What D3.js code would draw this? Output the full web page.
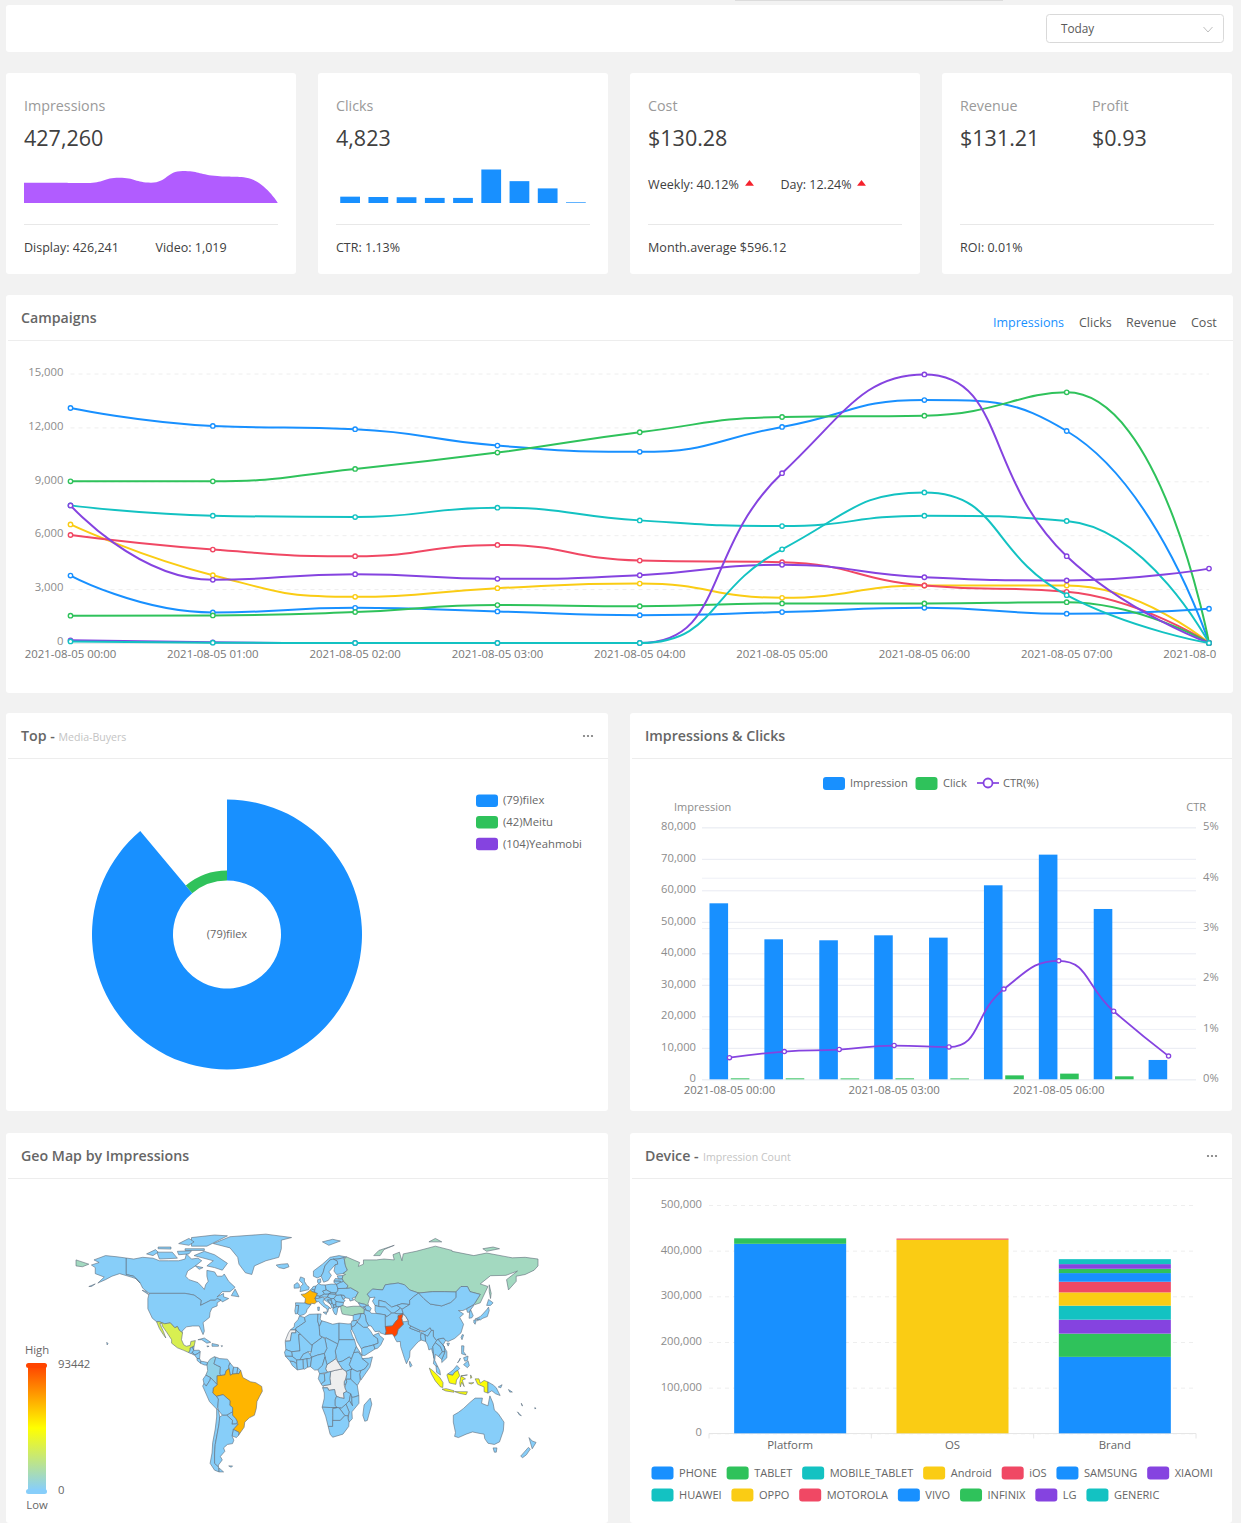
<!DOCTYPE html>
<html>
<head>
<meta charset="utf-8">
<title>Dashboard</title>
<script src="https://cdnjs.cloudflare.com/ajax/libs/d3/7.8.5/d3.min.js"></script>
<style>
  html, body { margin: 0; padding: 0; background: #f2f2f2; overflow: hidden; }
  svg { display: block; font-family: "Open Sans", sans-serif; }
  .domain { display: none; }
</style>
</head>
<body>
<svg id="page" width="1241" height="1523"></svg>
<script>
// ---- data ----
var palette = ["#1890FF", "#2FC25B", "#13C2C2", "#FACC14", "#F04864", "#8543E0"];

var sparkImpressions = [42, 42, 41, 52, 42, 66, 56, 52, 0];
var sparkClicks = [280, 265, 255, 225, 225, 1480, 965, 645, 30];

var hours = ["2021-08-05 00:00", "2021-08-05 01:00", "2021-08-05 02:00", "2021-08-05 03:00", "2021-08-05 04:00",
  "2021-08-05 05:00", "2021-08-05 06:00", "2021-08-05 07:00", "2021-08-05 08:00"];
var campaignTicks = [0, 3000, 6000, 9000, 12000, 15000];
var campaignBlueTop = [13080, 12080, 11900, 10990, 10640, 12025, 13520, 11800, 0];
var campaignGreenTop = [9000, 9000, 9690, 10600, 11730, 12580, 12650, 13950, 0];
var campaignTealMid = [7660, 7085, 7010, 7530, 6825, 6510, 7085, 6790, 0];
var campaignYellow = [6600, 3770, 2570, 3050, 3310, 2515, 3200, 3200, 0];
var campaignRed = [6010, 5200, 4830, 5460, 4590, 4495, 3200, 2850, 0];
var campaignPurpleLow = [7660, 3515, 3830, 3570, 3770, 4350, 3660, 3480, 4140];
var campaignBlueLow = [3755, 1700, 1960, 1760, 1550, 1720, 1960, 1630, 1905];
var campaignGreenLow = [1520, 1535, 1720, 2110, 2050, 2200, 2200, 2275, 0];
var campaignPurpleTall = [148, 37, 0, 0, 0, 9450, 14950, 4830, 0];
var campaignTealTall = [90, 20, 0, 0, 0, 5215, 8380, 2660, 0];
var campaignTabs = ["Impressions", "Clicks", "Revenue", "Cost"];

var buyerNames = ["(79)filex", "(42)Meitu", "(104)Yeahmobi"];
var buyerValues = [100, 12.5, 0];

var impressionValues = [55870, 44440, 44130, 45710, 44970, 61590, 71320, 54070, 6140];
var clickValues = [300, 300, 280, 300, 280, 1250, 1800, 950, 0];
var ctrValues = [0.43, 0.55, 0.59, 0.67, 0.64, 1.79, 2.35, 1.35, 0.46];

var deviceGroups = ["Platform", "OS", "Brand"];
var deviceSeries = ["PHONE", "TABLET", "MOBILE_TABLET", "Android", "iOS", "SAMSUNG", "XIAOMI", "HUAWEI", "OPPO", "MOTOROLA", "VIVO", "INFINIX", "LG", "GENERIC"];
var deviceValues = [
  [415000, 0, 167400], [12000, 0, 50900], [200, 0, 0], [0, 424000, 0], [0, 2500, 0],
  [0, 0, 0], [0, 0, 30600], [0, 0, 30600], [0, 0, 29100], [0, 0, 23300],
  [0, 0, 19000], [0, 0, 9400], [0, 0, 10200], [0, 0, 10900]
];

var geoMax = 93442;
var geoValues = { Pakistan: 93442, Brazil: 65400, France: 65400, Indonesia: 45000, Mexico: 31500, Russia: 10900, Turkey: 10900, Colombia: 3100,
  WesternSahara: null, CAR: null, DRCongo: null, Kashmir: null };

// rough country outlines, [lon, lat]
var worldShapes = [
  ["Canada", [[-141,69.6],[-135,69],[-128,70],[-120,69.5],[-115,68],[-108,68],[-100,68],[-95,69],[-94,72],[-90,69],[-85,69.5],[-82,68],[-87,65],[-93,62],[-94.5,59],[-92,57],[-85,55.3],[-82,53],[-80,51.3],[-79,54],[-77,56],[-78,59],[-78,62.4],[-72,61.5],[-70,59],[-66,59],[-64.5,60.3],[-61,56],[-56,52.5],[-60,50],[-66,50],[-70,47],[-65,49],[-65,47],[-61,46],[-66,44],[-67,45],[-70,46],[-71.5,45],[-75,45],[-79,43.5],[-83,42],[-82.5,45],[-88,48],[-95,49],[-123,49],[-128,52],[-130,55],[-135,59],[-141,60]]],
  ["Canada", [[-80,73.5],[-72,71.5],[-62,66.5],[-66,62.5],[-72,64],[-78,65],[-73,68],[-88,71]]],
  ["Canada", [[-117,73],[-105,73],[-101,69.5],[-115,69]]],
  ["Canada", [[-90,76.5],[-78,76.5],[-62,82.5],[-72,83],[-90,81.5]]],
  ["Canada", [[-125,72],[-118,74.5],[-116,73],[-120,71]]],
  ["Canada", [[-95,75],[-80,75],[-80,74],[-95,74]]],
  ["Canada", [[-100,78],[-92,81],[-88,79],[-92,77]]],
  ["Canada", [[-116,76],[-106,76],[-106,74.8],[-116,75]]],
  ["Canada", [[-101,73.5],[-90,73.8],[-92,72],[-100,71.5]]],
  ["Canada", [[-59,47.7],[-56,51.5],[-53,47]]],
  ["Canada", [[-128.5,50.8],[-123.5,48.3],[-125,50]]],
  ["Canada", [[-87,65],[-81,64],[-84,63]]],
  ["USA", [[-141,69.6],[-141,60],[-135,59],[-130,55],[-133,57.5],[-137,58.5],[-146,60.5],[-152,59],[-157,57],[-163,55],[-158,58.5],[-165,60.5],[-165,64],[-168,65.5],[-162,67],[-166,68.5],[-157,71],[-148,70.3]]],
  ["USA", [[-123,49],[-95,49],[-88,48],[-82.5,45],[-83,42],[-79,43.5],[-75,45],[-71.5,45],[-70,46],[-67,45],[-70,43.5],[-70,41.7],[-74,40.5],[-75.5,38],[-76,35],[-81,32],[-80,27],[-81,25],[-82.8,28],[-84,30],[-89,30],[-94,29.5],[-97.3,27],[-97,26],[-99.5,27.5],[-101,29.7],[-103,29],[-106.5,31.8],[-111,31.3],[-115,32.5],[-117.2,32.5],[-120.5,34.5],[-124,40],[-124,46]]],
  ["USA", [[-156,20.5],[-155,19.6],[-155.8,19]]],
  ["USA", [[-170,53],[-165,54.5],[-168,53]]],
  ["Mexico", [[-117.2,32.5],[-115,32.5],[-111,31.3],[-106.5,31.8],[-103,29],[-101,29.7],[-99.5,27.5],[-97,26],[-97.8,22],[-96,19],[-94,18.2],[-91,18.7],[-90.5,21],[-87,21.5],[-88,18.2],[-89.2,17.8],[-91,17.2],[-91,16],[-92.2,14.5],[-96,15.8],[-101,17.3],[-105.5,20],[-105.5,22],[-109,26],[-112.7,30],[-113,31.5],[-114.7,31.5],[-112,27],[-110,23],[-112,25],[-115,28.5]]],
  ["Greenland", [[-73,78],[-60,82],[-32,83.5],[-12,81.5],[-20,80],[-20,75],[-22,70],[-32,68],[-41,65],[-43,60],[-48,61],[-53,66],[-54,70],[-60,75.5]]],
  ["Cuba", [[-85,22],[-80,23],[-75,20.5],[-78,20],[-82,22]]],
  ["Hispaniola", [[-74,19.8],[-69,19],[-69,18.2],[-74,18.2]]],
  ["Jamaica", [[-78,18.4],[-76.3,18.2],[-77.5,17.8]]],
  ["PuertoRico", [[-67,18.5],[-65.7,18.4],[-66.5,18]]],
  ["Guatemala", [[-92.2,14.5],[-91,16],[-91,17.2],[-89.2,17.8],[-88.3,15.8],[-89.3,14.5],[-90.5,13.9]]],
  ["Belize", [[-89.2,17.8],[-88,18.4],[-88.3,16]]],
  ["Honduras", [[-89.3,14.5],[-88.3,15.8],[-84,15.9],[-83.2,15],[-85,14],[-87.5,13]]],
  ["Salvador", [[-90,13.8],[-89.3,14.4],[-87.7,13.5],[-88,13.1]]],
  ["Nicaragua", [[-87.5,13],[-85,14],[-83.2,15],[-83.7,11],[-85.7,11.1]]],
  ["CostaRica", [[-85.7,11.1],[-83.7,11],[-82.6,9.5],[-83,8.3],[-85.7,10]]],
  ["Panama", [[-83,8.3],[-82.6,9.5],[-80,9.2],[-77.4,8.7],[-77.9,7.2],[-80,7.3]]],
  ["Colombia", [[-77.4,8.7],[-75.5,10.7],[-72,12.2],[-71.3,11],[-72.5,8],[-70,7],[-67.5,6.2],[-67.8,2],[-67,1.2],[-70,1],[-70,-4.2],[-72,-2.5],[-75.2,-0.1],[-78.8,1.4],[-77.4,4],[-77.9,7.2]]],
  ["Venezuela", [[-71.3,11],[-71.5,12],[-68,11],[-62,10.7],[-60,8.5],[-61,6.5],[-60.7,5.2],[-63,4],[-64,1.5],[-67,1.2],[-67.8,2],[-67.5,6.2],[-70,7],[-72.5,8]]],
  ["Guyana", [[-60,8.5],[-57.2,6],[-58,2],[-59.8,1.3],[-60.7,5.2],[-61,6.5]]],
  ["Suriname", [[-57.2,6],[-54,5.8],[-54.5,2.3],[-58,2]]],
  ["Guiana", [[-54,5.8],[-51.7,4.2],[-53,2.2],[-54.5,2.3]]],
  ["Brazil", [[-60.7,5.2],[-59.8,1.3],[-58,2],[-54.5,2.3],[-53,2.2],[-51.7,4.2],[-50,0],[-44,-2.5],[-40,-3],[-35.3,-5.2],[-34.8,-8],[-37,-11],[-39,-14],[-39.5,-18],[-41,-22],[-45,-23.5],[-48.5,-26],[-49,-29],[-53.4,-33.7],[-53,-32],[-57.5,-30.2],[-53.8,-27.2],[-54.5,-25.5],[-55.5,-24],[-58,-22],[-58,-20],[-58,-17.5],[-60.2,-16.2],[-60,-13.5],[-65.4,-10],[-70.5,-11],[-73.5,-9],[-73,-6],[-70,-4.2],[-70,1],[-67,1.2],[-64,1.5],[-63,4]]],
  ["Ecuador", [[-78.8,1.4],[-75.2,-0.1],[-75.5,-1.5],[-78.5,-5],[-80.3,-3.5],[-81,-1]]],
  ["Peru", [[-75.2,-0.1],[-72,-2.5],[-70,-4.2],[-73,-6],[-73.5,-9],[-70.5,-11],[-69,-12.5],[-69.5,-17.5],[-70.4,-18.4],[-76,-14],[-81.3,-5],[-80.3,-3.5],[-78.5,-5],[-75.5,-1.5]]],
  ["Bolivia", [[-70.5,-11],[-65.4,-10],[-60,-13.5],[-60.2,-16.2],[-58,-17.5],[-58,-20],[-62.5,-22],[-66,-22],[-69,-19],[-69.5,-17.5],[-69,-12.5]]],
  ["Paraguay", [[-58,-20],[-58,-22],[-55.5,-24],[-54.5,-25.5],[-54.7,-27],[-58.5,-27.2],[-58,-25],[-62.5,-22]]],
  ["Uruguay", [[-57.5,-30.2],[-53,-32],[-53.4,-33.7],[-55,-35],[-58.4,-34]]],
  ["Chile", [[-70.4,-18.4],[-69,-19],[-68,-23],[-68.5,-27],[-70,-33],[-71.5,-39],[-72,-44],[-72,-50],[-69,-52],[-68.5,-55],[-72,-54],[-75.5,-50],[-74,-44],[-73.5,-38],[-71.5,-30],[-70.4,-23]]],
  ["Argentina", [[-66,-22],[-62.5,-22],[-58,-25],[-58.5,-27.2],[-54.7,-27],[-53.8,-27.2],[-57.5,-30.2],[-58.4,-34],[-57,-36.5],[-58,-38.5],[-62,-39],[-65,-41],[-64,-43],[-67.5,-46],[-66,-48],[-69,-51],[-69,-52],[-72,-50],[-72,-44],[-71.5,-39],[-70,-33],[-68.5,-27],[-68,-23]]],
  ["Argentina", [[-68.5,-52.7],[-65,-55],[-68.5,-55]]],
  ["Falklands", [[-61,-51.5],[-58,-51.5],[-59,-52.3]]],
  ["Iceland", [[-24,65.5],[-22,64],[-18,63.4],[-14,64.5],[-15,66.3],[-20,66]]],
  ["UK", [[-5.5,50],[1.3,51.2],[1.7,52.7],[0,53.5],[-2,56],[-2,57.7],[-5,58.6],[-6,56.5],[-3,54.5],[-5,53],[-5,51.7]]],
  ["Ireland", [[-10,52],[-6,52.2],[-6,54],[-7.5,55.3],[-10,54]]],
  ["Norway", [[5,59],[8,58],[11,59],[12.5,61],[14,65],[18,68.5],[24,69],[29,69.8],[31,70.2],[25,71],[18,70],[12,66],[5,62]]],
  ["Sweden", [[11,59],[13,55.5],[16.5,56.5],[19,59.5],[17,61.5],[22,65.7],[24,66],[23.5,68],[20.5,69],[18,68.5],[14,65],[12.5,61]]],
  ["Finland", [[23,60],[28,60.5],[31.5,62.5],[30,65],[29,69],[29,69.8],[24,69],[20.5,69],[23.5,68],[24,66],[22,65.7],[21,62]]],
  ["Svalbard", [[12,79],[20,80.5],[26,79.5],[17,77]]],
  ["Denmark", [[8.3,57],[10.5,57.5],[10.8,55.5],[9,54.8],[8.2,55.5]]],
  ["Netherlands", [[3.5,51.5],[4.8,53],[7,53.3],[6,50.8]]],
  ["Belgium", [[2.5,51],[3.5,51.5],[6,50.8],[6,49.6],[4,50]]],
  ["France", [[-1.7,43.4],[-1.2,46],[-4.7,48.4],[-1.6,48.7],[1.5,50.2],[2.5,51],[4,50],[6,49.6],[8.2,49],[7.5,47.6],[6.2,46.2],[7.5,44],[6,43],[3,43.2],[3.1,42.5],[0.5,42.7]]],
  ["Spain", [[-9,43.5],[-1.7,43.4],[0.5,42.7],[3.1,42.5],[0,39.5],[-0.5,38],[-2,36.8],[-5.5,36],[-7.4,37.2],[-7,39.5],[-6.5,42],[-8.8,41.9]]],
  ["Portugal", [[-8.8,41.9],[-6.5,42],[-7,39.5],[-7.4,37.2],[-9,37],[-9.5,38.8]]],
  ["Germany", [[6,50.8],[7,53.3],[9,54.8],[11,54],[14.2,53.9],[15,51],[12.2,50.3],[13.7,48.6],[10,47.3],[7.5,47.6],[8.2,49],[6,49.6]]],
  ["Switzerland", [[6.2,46.2],[7.5,47.6],[10,47.3],[10,46.3],[8,46]]],
  ["Austria", [[10,47.3],[13.7,48.6],[17,48.7],[16,46.8],[12,46.8],[10,46.8]]],
  ["Italy", [[7.5,44],[6.2,46.2],[8,46],[10,46.3],[12,46.8],[13.7,46],[12.5,44.5],[14,42.5],[16,41.8],[18.5,40.2],[17,40.5],[16.5,39],[16,38],[15.5,40],[12.5,41.5],[10.5,43],[9,44.3]]],
  ["Italy", [[12.5,38],[15.5,38.2],[15,36.7]]],
  ["Italy", [[8.3,41],[9.7,41],[9.5,39],[8.5,39]]],
  ["Poland", [[14.2,53.9],[19,54.4],[23,54.3],[24,52],[24,50.5],[22.5,49.2],[19,49.4],[15,51]]],
  ["Czechia", [[12.2,50.3],[15,51],[18.8,49.5],[17,48.7],[13.7,48.6]]],
  ["Slovakia", [[18.8,49.5],[22.5,49.2],[22,48.4],[17,48.7]]],
  ["Hungary", [[16,46.8],[17,48.7],[22,48.4],[22.8,47.9],[21,46],[18.8,45.9]]],
  ["Croatia", [[13.7,46],[16,46.8],[18.8,45.9],[19,45],[16,45.2],[18.5,42.5],[15,44.5],[13.7,45]]],
  ["Bosnia", [[16,45.2],[19,45],[19.5,43.5],[18.5,42.5]]],
  ["Serbia", [[19,45],[18.8,45.9],[21,46],[22.6,44.3],[22.5,42.4],[20.5,42.2],[19.5,43.5]]],
  ["Albania", [[18.5,42.5],[19.5,43.5],[20.5,42.2],[21,40.5],[19.4,40.4]]],
  ["Macedonia", [[20.5,42.2],[22.5,42.4],[23,41.2],[21,40.7]]],
  ["Greece", [[21,40.5],[21,40.7],[23,41.2],[26.2,41.5],[24,40.5],[23.5,38],[22.8,36.5],[21.5,37],[20,39.5]]],
  ["Bulgaria", [[22.6,44.3],[28.5,43.7],[28,42],[26.2,41.5],[23,41.2],[22.5,42.4]]],
  ["Romania", [[21,46],[22.8,47.9],[26.5,48.2],[28.2,45.5],[29.7,45],[28.5,43.7],[22.6,44.3]]],
  ["Moldova", [[26.5,48.2],[29,47.8],[30,46.4],[28.2,45.5]]],
  ["Ukraine", [[22.5,49.2],[24,50.5],[24,51.8],[31,52],[34,52.3],[40,49.7],[38,47],[35,46],[36.5,45.2],[33.5,44.5],[33,46],[30,46.4],[29,47.8],[26.5,48.2],[22.8,47.9]]],
  ["Belarus", [[24,52],[23,54.3],[26,55.5],[28.5,56],[32,53.5],[31,52],[24,51.8]]],
  ["Lithuania", [[21,55.3],[21,56.3],[26,56.2],[26,55.5],[23,54.3]]],
  ["Latvia", [[21,56.3],[22,57.6],[24.5,57.5],[27.5,57.5],[28.5,56],[26,55.5],[26,56.2]]],
  ["Estonia", [[23.5,59.2],[28,59.4],[27.5,57.5],[24.5,57.5]]],
  ["Turkey", [[26.2,41.5],[28,42],[31,41],[36,41.5],[41.5,41.5],[44.7,39.7],[44.5,37.2],[42,37.2],[36.5,36.5],[36,36],[30.5,36.5],[27.5,37],[26.5,39.5]]],
  ["Russia", [[28,59.4],[30,60],[28,60.5],[31.5,62.5],[30,65],[29,69],[31,70.2],[41,67],[40,64.7],[44,66],[44,68.5],[54,68.5],[60,69],[68,68.5],[67,71.5],[72,73],[74,68],[75,72],[85,73.5],[100,76.5],[113,74],[113,73.5],[130,71],[140,72.5],[160,69.7],[170,70],[180,69],[180,65],[177,62.5],[170,60],[163,59],[163,56],[157,51],[155.5,57],[164,62],[155,59.5],[143,59.3],[135,54.5],[141,53],[135,43.5],[131,42.5],[130.5,43],[135,48.4],[127,50],[125,53],[120,53],[116,49.8],[107,50],[98,50],[87,49.2],[80,51],[76,54],[71,55],[61,54],[59,51],[51,51.5],[47,48.5],[49,46.5],[47.5,43],[48,41.8],[45,42.6],[40,43.5],[37,45.2],[38,47],[40,49.7],[34,52.3],[31,52],[32,53.5],[28.5,56],[27.5,57.5]]],
  ["Russia", [[-180,68.5],[-170,66],[-175,64.5],[-180,65]]],
  ["Russia", [[52,71],[56,74],[68,77],[60,74.5],[57,71]]],
  ["Russia", [[142,54],[143.5,49],[143,46],[142,50]]],
  ["Russia", [[95,79],[105,79],[100,81]]],
  ["Russia", [[137,75],[145,76],[150,75],[140,73.5]]],
  ["Georgia", [[40,43.5],[45,42.6],[46.5,41.8],[43.5,41],[41.5,41.5]]],
  ["Armenia", [[43.5,41],[45,41],[46.5,39],[44.7,39.7]]],
  ["Azerbaijan", [[45,41],[46.5,41.8],[48,41.8],[50,40.3],[49,38.5],[46.5,39]]],
  ["Kazakhstan", [[47,48.5],[51,51.5],[59,51],[61,54],[71,55],[76,54],[80,51],[87,49.2],[83,47],[80,45],[80,42.5],[74,43],[70,42],[66,41],[61,44],[56,45],[56,41.3],[53,42],[51,44.5],[53,46.8],[49,46.5]]],
  ["Uzbekistan", [[56,45],[61,44],[66,41],[70,42],[73,40.5],[68,37.5],[66,37.5],[61,41],[56,41.3]]],
  ["Turkmenistan", [[53,42],[56,41.3],[61,41],[66,37.5],[62,35.3],[61,36.5],[54,37.3],[53,39]]],
  ["Kyrgyzstan", [[70,42],[74,43],[80,42.5],[74,39.7],[73,40.5]]],
  ["Tajikistan", [[68,37.5],[73,40.5],[74,39.7],[75,37.3],[71,37]]],
  ["Afghanistan", [[60.9,34],[61,36.5],[62,35.3],[66,37.5],[68,37.5],[71,37],[75,37.3],[71,36],[71,34],[69.5,33],[66.5,30],[61,29.7]]],
  ["Iran", [[44.7,39.7],[46.5,39],[49,38.5],[50,37.4],[54,37.3],[61,36.5],[60.9,34],[61,29.7],[61.7,27],[61,25],[57,26],[56.5,27],[53,26.7],[50,30],[48,30.2],[46,33],[45.5,36],[44.5,37.2]]],
  ["Iraq", [[42,37.2],[44.5,37.2],[45.5,36],[46,33],[48,30.2],[47,29.2],[44,29.2],[39,32.2],[41,34.5]]],
  ["Syria", [[36,36],[36.5,36.5],[42,37.2],[41,34.5],[38.8,33.3],[36,33]]],
  ["Jordan", [[35,33],[36,33],[38.8,33.3],[39,32.2],[37,30],[35,29.5],[34.3,31.3]]],
  ["SaudiArabia", [[34.8,28],[35,29.5],[37,30],[39,32.2],[44,29.2],[47,29.2],[48.5,28],[50,26.5],[51.5,24.5],[55,22.7],[55.5,20],[52,19],[48,18.2],[43.5,17.4],[42.5,16.5],[39,21],[37,25]]],
  ["Yemen", [[42.8,13],[42.5,16.5],[43.5,17.4],[48,18.2],[52,19],[53,16.6],[45,12.8]]],
  ["Oman", [[51.5,24.5],[56,26],[56.5,24.5],[59.8,22.5],[57.5,19],[55,17],[53,16.6],[52,19],[55.5,20],[55,22.7]]],
  ["India", [[68,23.7],[70,25],[71,28],[75,31],[74.5,32.5],[77,35.5],[79,33],[79,31],[81,30],[80,28.8],[88,26.5],[92,26.8],[96,29],[97,27.5],[94,24],[92.5,23.5],[92,24.9],[89,25.9],[88.5,24],[89,21.8],[87,21],[85,19.5],[80.3,15.5],[80,12],[77.5,8],[76,11],[73,18],[72.7,21],[70,20.8],[68.5,22.8]]],
  ["Pakistan", [[61,25],[61.7,27],[61,29.7],[66.5,30],[69.5,33],[71,34],[71,36],[75,37],[74,34.5],[74.5,32.5],[75,31],[71,28],[70,25],[68,23.7],[66.5,25.3]]],
  ["Kashmir", [[74,34.5],[75,37],[77,35.5],[79,33],[76.5,32.5],[74.5,32.5]]],
  ["Bangladesh", [[88.5,24],[89,25.9],[92,24.9],[92.5,21],[89,21.8]]],
  ["Nepal", [[80,28.8],[81,30],[88,27.5],[88,26.5]]],
  ["SriLanka", [[80,9.5],[81.8,7],[80.5,6],[79.8,8]]],
  ["Myanmar", [[92.5,21],[92,24.9],[94,24],[97,27.5],[98.5,27.5],[98.5,24],[101,21.5],[98,18],[99,11],[98,14],[97,16.8],[95,16],[94,19]]],
  ["Thailand", [[98,18],[100,20.3],[104,18],[105.5,15],[102.5,12.2],[100,13.5],[99.5,10],[102,6.2],[100.5,6.7],[98.5,8],[99,11]]],
  ["Laos", [[101,21.5],[102,22.4],[107,18],[107.5,15],[105.5,15],[104,18],[100,20.3]]],
  ["Vietnam", [[102,22.4],[106.5,23],[108,21.5],[106,19],[109,15],[109,11.5],[105,8.7],[105,10.5],[107.5,15],[107,18]]],
  ["Cambodia", [[102.5,12.2],[105.5,15],[107.5,15],[105,10.5]]],
  ["Malaysia", [[100.5,6.7],[102,6.2],[103.5,4],[104,1.5],[101,3]]],
  ["Malaysia", [[109.6,2],[111.5,3],[114,4.5],[116.8,7],[119,5.2],[117.5,4.2],[115,3],[113.5,1.3]]],
  ["China", [[74,39.7],[80,42.5],[80,45],[83,47],[87,49.2],[91,46],[96,42.8],[105,41.7],[112,43.7],[116,46.5],[116,49.8],[120,53],[125,53],[127,50],[135,48.4],[130.5,43],[128,41.5],[124.3,40],[121.5,39],[118,39],[122,37],[119,35],[122,31],[120,26],[115,22.7],[110,21],[108,21.5],[106.5,23],[102,22.4],[101,21.5],[98.5,24],[98.5,27.5],[97,27.5],[96,29],[92,26.8],[88,27.5],[81,30],[79,31],[79,33],[77,35.5],[75,37.3]]],
  ["China", [[109,20],[111,20],[110,18.3]]],
  ["Mongolia", [[87,49.2],[98,50],[107,50],[116,49.8],[116,46.5],[112,43.7],[105,41.7],[96,42.8],[91,46]]],
  ["Taiwan", [[121,25],[122,24.8],[120.8,22],[120,23.3]]],
  ["NorthKorea", [[124.3,40],[128,41.5],[130.5,42.5],[127.5,39.5],[126.7,38],[125,38]]],
  ["SouthKorea", [[126.7,38],[127.5,39.5],[129.5,36],[128.5,34.8],[126.3,34.5]]],
  ["Japan", [[130.9,34],[135,35.5],[137,37],[140,39.5],[141.5,41],[142,39],[140.5,35.5],[137,34.5],[135,33.5],[132,34]]],
  ["Japan", [[140,42],[141.5,45.5],[145,43.5],[143,42]]],
  ["Japan", [[130,33.5],[132,33.5],[131,31],[130,32]]],
  ["Japan", [[132.5,34],[134.5,34],[133,33]]],
  ["Philippines", [[120.5,18.5],[122.3,18.4],[122,15],[124,13],[120.5,13.8]]],
  ["Philippines", [[122,7.5],[125.5,9.8],[126.5,7],[125,5.7]]],
  ["Philippines", [[122,11.5],[125.5,12.5],[125,10],[123,9.5]]],
  ["Philippines", [[117.3,8.5],[119.5,11.3],[119,10]]],
  ["Indonesia", [[95.3,5.5],[98,4],[103.5,0],[106,-3],[105.8,-5.8],[104,-5.5],[100,-2],[97,2]]],
  ["Indonesia", [[105.2,-6.8],[108.5,-6.5],[114.5,-7.7],[114.4,-8.6],[108,-7.8]]],
  ["Indonesia", [[109,1.5],[109.6,2],[113.5,1.3],[115,3],[117.5,4.2],[119,1],[116.5,-1.5],[116,-4],[111,-3.2],[110,-1]]],
  ["Indonesia", [[119.5,-5.5],[120.5,-2.8],[122.5,-5.3],[121,-1.5],[123.5,-0.8],[120,0.8],[125,1.5],[120,1],[119,-3]]],
  ["Indonesia", [[115,-8.2],[120,-8.3],[125,-8.3],[124,-10],[119,-9.3]]],
  ["Indonesia", [[131,-0.8],[134,-0.8],[135,-3.3],[138,-1.7],[141,-2.6],[141,-9.1],[138,-8.3],[138,-5.5],[133,-4]]],
  ["Indonesia", [[127.5,1.5],[128.5,0],[127.5,-0.5]]],
  ["Indonesia", [[126,-3.2],[130,-3],[128,-3.8]]],
  ["PNG", [[141,-2.6],[145,-4.3],[147.5,-6],[150.5,-10.5],[147,-9.5],[144,-7.7],[141,-9.1]]],
  ["PNG", [[149,-5.5],[152,-4.2],[151,-6]]],
  ["Solomon", [[157,-7],[160,-8.5],[158,-8.5]]],
  ["Australia", [[114,-22],[114,-26],[115.7,-32],[115,-34.3],[118,-35],[124,-33],[129,-31.7],[134,-32.5],[138,-33],[138.5,-35.6],[141,-38.3],[146,-39],[150,-37.5],[153,-31],[153.5,-26],[149,-21],[146,-19],[145,-15],[142.5,-10.7],[141,-16.5],[136,-15],[136.7,-12],[131,-12],[127,-14.5],[122,-18],[118,-20.3]]],
  ["Australia", [[145,-41],[148,-41],[147.5,-43.5],[146,-43.5]]],
  ["NewZealand", [[173,-35],[175.5,-37],[178.5,-37.8],[175.5,-41.5],[174.5,-39]]],
  ["NewZealand", [[172.5,-40.7],[174,-41.7],[171,-45],[168,-46.7],[166.5,-45.8]]],
  ["NewCaledonia", [[164,-20],[167,-22.3],[165.5,-21.8]]],
  ["Vanuatu", [[167,-15],[168,-16.5],[167.5,-16.5]]],
  ["Fiji", [[177.5,-17.5],[178.5,-18],[177.5,-18.2]]],
  ["Morocco", [[-5.9,35.8],[-2,35],[-1.2,32.5],[-5,30.5],[-8.7,28.7],[-8.7,27.7],[-13,27.7],[-10,29.5],[-9.7,31.5],[-7,33.7]]],
  ["WesternSahara", [[-13,27.7],[-8.7,27.7],[-8.7,26],[-12,26],[-13,21.3],[-17,21.3],[-14.5,26]]],
  ["Algeria", [[-2,35],[2,36.8],[8.6,37],[8.3,33],[9.5,30],[10,24.5],[12,23.5],[4,19],[3.3,19],[-4.8,25],[-8.7,27.7],[-8.7,28.7],[-5,30.5],[-1.2,32.5]]],
  ["Tunisia", [[8.6,37],[11,37],[10.2,34],[11.5,33],[10,30.2],[9.5,30],[8.3,33]]],
  ["Libya", [[10,30.2],[11.5,33],[15,32.3],[20,31],[25,31.7],[25,20],[24,19.5],[15,23],[12,23.5],[10,24.5],[9.5,30]]],
  ["Egypt", [[25,31.7],[32,31.2],[34.3,31.3],[34.8,28],[34,27.5],[35.5,24],[37,22],[25,22]]],
  ["Sudan", [[24,19.5],[25,22],[37,22],[38.5,18],[36.5,14.5],[34.5,10.5],[33,12],[27.5,9.5],[24,9],[22.5,13],[22,15.5]]],
  ["SouthSudan", [[24,9],[27.5,9.5],[33,12],[34.5,10.5],[33,7.5],[35,5],[30.5,3.5],[27.5,5],[24.5,8.5]]],
  ["Eritrea", [[36.5,14.5],[38.5,18],[43,12.7],[40,14.8]]],
  ["Ethiopia", [[34.5,10.5],[36.5,14.5],[40,14.8],[42.5,12.5],[43,11],[48,8],[45,5],[42,4],[39,3.5],[35,5],[33,7.5]]],
  ["Somalia", [[43,11],[48,11.3],[51,12],[49,6],[42,-1.5],[41,2],[42,4],[45,5],[48,8]]],
  ["Kenya", [[35,5],[39,3.5],[42,4],[41,2],[41.5,-1.7],[39.2,-4.7],[34,-1],[34,4]]],
  ["Uganda", [[30.5,3.5],[35,5],[34,4],[34,-1],[30,-1],[31,2]]],
  ["Rwanda", [[30,-1],[30.5,-1],[31,-2.5],[30,-4.4],[29,-4.4],[29,-2.5]]],
  ["Tanzania", [[34,-1],[39.2,-4.7],[40.4,-10.5],[36.5,-11.5],[34.9,-11.5],[34,-9.5],[31,-8.6],[29.5,-6],[30,-4.4],[31,-2.5],[30.5,-1]]],
  ["DRCongo", [[12.2,-6],[13,-4.7],[18.5,-4],[17.8,-0.5],[18.5,3.5],[22,4.2],[27.5,5],[30.5,3.5],[31,2],[30,-1],[29,-2.5],[29,-4.4],[29.5,-6],[30.8,-8.2],[28.5,-9],[29,-12.2],[26,-11.8],[23,-11],[22,-9.3],[21.5,-7],[17,-7.5],[16,-6]]],
  ["CAR", [[14.5,5],[15.5,7.5],[18.5,9],[22.5,11],[24,9],[24.5,8.5],[27.5,5],[22,4.2],[18.5,3.5],[16,3]]],
  ["Chad", [[15,23],[24,19.5],[22,15.5],[22.5,13],[22.5,11],[18.5,9],[15.5,7.5],[14,12],[13.5,14],[15.5,17],[14,22.5]]],
  ["Niger", [[4,19],[12,23.5],[14,22.5],[15.5,17],[13.5,14],[8,13],[3.7,11.8],[2,13],[3.3,15]]],
  ["Mauritania", [[-17,21],[-13,21.3],[-12,26],[-8.7,26],[-8.7,27.7],[-4.8,25],[-6.5,25],[-5.5,15.5],[-12,15],[-16.5,16.3]]],
  ["Mali", [[-6.5,25],[-4.8,25],[3.3,19],[4,19],[3.3,15],[1,15],[-3,13.5],[-5.5,10.3],[-8,10.2],[-11.5,12.3],[-12,15],[-5.5,15.5]]],
  ["Burkina", [[-3,13.5],[1,15],[3.7,11.8],[2,11],[-3,10.5],[-5.5,10.3]]],
  ["Senegal", [[-16.5,16.3],[-12,15],[-11.5,12.3],[-16.8,12.4],[-17.5,14.7]]],
  ["Guinea", [[-16.8,12.4],[-11.5,12.3],[-8,10.2],[-8,8],[-10.5,9.3],[-13.3,9.5]]],
  ["Liberia", [[-13.3,9.5],[-10.5,9.3],[-8,8],[-7.5,4.4],[-11.5,7]]],
  ["IvoryCoast", [[-8,10.2],[-5.5,10.3],[-3,10.5],[-2.8,5],[-7.5,4.4],[-8,8]]],
  ["Ghana", [[-3,10.5],[0,11],[0.5,6],[-2,4.8],[-2.8,5]]],
  ["Benin", [[0,11],[2,11],[3.7,11.8],[2.7,6.3],[0.5,6]]],
  ["Nigeria", [[2.7,6.3],[3.7,11.8],[8,13],[13.5,14],[14,12],[12,7],[8.5,4.5],[6,4.3]]],
  ["Cameroon", [[8.5,4.5],[12,7],[14,12],[15.5,7.5],[14.5,5],[16,3],[9.8,2.2]]],
  ["Gabon", [[9.8,2.2],[13.5,2.2],[14,-2],[11,-3.8],[8.8,-0.7]]],
  ["Congo", [[13.5,2.2],[16,3],[18.5,3.5],[17.8,-0.5],[18.5,-4],[13,-4.7],[12.2,-5],[11,-3.8],[14,-2]]],
  ["Angola", [[12.2,-6],[16,-6],[17,-7.5],[21.5,-7],[22,-9.3],[23,-11],[22,-13],[22,-16.2],[23.5,-17.5],[18.5,-17.5],[11.8,-17.3],[13.5,-12],[13.5,-9]]],
  ["Zambia", [[22,-13],[23,-11],[26,-11.8],[29,-12.2],[28.5,-9],[30.8,-8.2],[34,-9.5],[33,-13.5],[30.4,-15.5],[27,-17.8],[25,-17.7],[23.5,-17.5],[22,-16.2]]],
  ["Malawi", [[34,-9.5],[34.9,-11.5],[35,-14.3],[35.5,-16.5],[33,-13.5]]],
  ["Mozambique", [[34.9,-11.5],[36.5,-11.5],[40.4,-10.5],[40.5,-15],[35,-20],[35.3,-24],[32.8,-26],[32,-24],[32.8,-20],[30.4,-15.5],[33,-13.5],[35.5,-16.5],[35,-14.3]]],
  ["Zimbabwe", [[25.3,-17.8],[27,-17.8],[30.4,-15.5],[32.8,-20],[32,-22.3],[29.5,-22.2]]],
  ["Botswana", [[20,-18],[23.5,-17.5],[25,-17.7],[29.5,-22.2],[26,-25],[20,-25],[20,-22]]],
  ["Namibia", [[11.8,-17.3],[18.5,-17.5],[23.5,-17.5],[20,-18],[20,-22],[20,-28.5],[16.5,-28.5],[14.5,-22.5]]],
  ["SouthAfrica", [[16.5,-28.5],[20,-28.5],[20,-25],[26,-25],[29.5,-22.2],[32,-22.3],[32,-24],[32.8,-26],[32.5,-28.5],[28,-33],[20,-34.8],[18,-33]]],
  ["Madagascar", [[49.3,-12],[50.5,-15.5],[47,-25],[45,-25.5],[43.5,-22],[44.5,-16]]]
];

// ---- helpers ----
var svg = d3.select("#page");
var textDark = "#404040", textGrey = "#9a9a9a", axisGrey = "#8c8c8c", lineGrey = "#e8e8e8", titleGrey = "#666666";
var fmt = d3.format(",");

function label(x, y, str, size, color, anchor, weight) {
  return svg.append("text").attr("x", x).attr("y", y).attr("dy", "0.35em")
    .attr("font-size", size).attr("fill", color || textDark)
    .attr("text-anchor", anchor || "start").attr("font-weight", weight || 400).text(str);
}
function card(x, y, w, h) {
  svg.append("rect").attr("x", x).attr("y", y).attr("width", w).attr("height", h).attr("rx", 3).attr("fill", "#fff");
}
function hline(x1, x2, y, color) {
  return svg.append("line").attr("x1", x1).attr("x2", x2).attr("y1", y).attr("y2", y)
    .attr("stroke", color || lineGrey).attr("stroke-width", 1);
}
function dots(cx, cy) {
  [-4, 0, 4].forEach(function(d) {
    svg.append("circle").attr("cx", cx + d).attr("cy", cy).attr("r", 1.1).attr("fill", "#777");
  });
}
function styleAxis(g, color, size) {
  g.selectAll("text").attr("fill", color).attr("font-size", size).attr("font-family", "Open Sans").attr("dy", "0.22em");
}

// same bezier the chart lib uses for smooth lines, clamps the handles at peaks
function smoothCurve(context) {
  var pts = [];
  return {
    areaStart: function() {}, areaEnd: function() {},
    lineStart: function() { pts = []; },
    point: function(x, y) { pts.push([+x, +y]); },
    lineEnd: function() {
      var s = 0.5, n = pts.length;
      var cpOut = [], cpIn = [];
      pts.forEach(function(p, i) {
        if (i === 0 || i === n - 1) { cpOut[i] = p; cpIn[i] = p; return; }
        var a = pts[i - 1], b = pts[i + 1];
        var vx = b[0] - a[0], vy = b[1] - a[1];
        var lp = Math.hypot(p[0] - a[0], p[1] - a[1]), ln = Math.hypot(b[0] - p[0], b[1] - p[1]);
        var r = ln / (ln + lp || 1);
        var nx = p[0] + vx * s * r, ny = p[1] + vy * s * r;
        nx = Math.min(Math.max(nx, Math.min(p[0], b[0])), Math.max(p[0], b[0]));
        ny = Math.min(Math.max(ny, Math.min(p[1], b[1])), Math.max(p[1], b[1]));
        var wx = nx - p[0], wy = ny - p[1];
        var px = p[0] - wx * lp / (ln || 1), py = p[1] - wy * lp / (ln || 1);
        px = Math.min(Math.max(px, Math.min(p[0], a[0])), Math.max(p[0], a[0]));
        py = Math.min(Math.max(py, Math.min(p[1], a[1])), Math.max(p[1], a[1]));
        wx = p[0] - px; wy = p[1] - py;
        nx = p[0] + wx * ln / (lp || 1); ny = p[1] + wy * ln / (lp || 1);
        cpOut[i] = [nx, ny]; cpIn[i] = [px, py];
      });
      context.moveTo(pts[0][0], pts[0][1]);
      for (var i = 1; i < n; i++) {
        context.bezierCurveTo(cpOut[i - 1][0], cpOut[i - 1][1], cpIn[i][0], cpIn[i][1], pts[i][0], pts[i][1]);
      }
    }
  };
}

// ---- top bar ----
svg.append("rect").attr("x", 735).attr("y", 0).attr("width", 268).attr("height", 1).attr("fill", "#dcdcdc");
card(6, 5, 1227, 47);
svg.append("rect").attr("x", 1046.5).attr("y", 14.5).attr("width", 177).attr("height", 28).attr("rx", 3)
  .attr("fill", "#fff").attr("stroke", "#d9d9d9");
label(1061, 29, "Today", 11.8, "#595959");
svg.append("path").attr("fill", "none").attr("stroke", "#bfbfbf").attr("stroke-width", 1)
  .attr("d", d3.line()([[1203.5, 27], [1208, 32], [1212.5, 27]]));

// ---- stat cards ----
[6, 318, 630, 942].forEach(function(x) {
  card(x, 73, 290, 201);
  hline(x + 18, x + 272, 224.5);
});
label(24, 106, "Impressions", 14.3, textGrey);
label(24, 138, "427,260", 21.5, textDark);
label(24, 247.5, "Display: 426,241", 12.5);
label(155.5, 247.5, "Video: 1,019", 12.5);

label(336, 106, "Clicks", 14.3, textGrey);
label(336, 138, "4,823", 21.5, textDark);
label(336, 247.5, "CTR: 1.13%", 12.5);

label(648, 106, "Cost", 14.3, textGrey);
label(648, 138, "$130.28", 21.5, textDark);
label(648, 184.5, "Weekly: 40.12%", 12.6);
label(780.5, 184.5, "Day: 12.24%", 12.5);
[749.5, 861.5].forEach(function(x) {
  svg.append("path").attr("d", d3.symbol(d3.symbolTriangle, 26)).attr("fill", "#f5222d")
    .attr("transform", "translate(" + x + ",183.8) scale(1.15,0.85)");
});
label(648, 247.5, "Month.average $596.12", 12.6);

label(960, 106, "Revenue", 14.3, textGrey);
label(1092, 106, "Profit", 14.3, textGrey);
label(960, 138, "$131.21", 21.5, textDark);
label(1092, 138, "$0.93", 21.5, textDark);
label(960, 247.5, "ROI: 0.01%", 12.5);

// sparkline area
var sparkX = d3.scaleLinear().domain([0, sparkImpressions.length - 1]).range([24, 278]);
var sparkY = d3.scaleLinear().domain([0, d3.max(sparkImpressions)]).range([203, 171]);
svg.append("path").datum(sparkImpressions).attr("fill", "#B15CFF")
  .attr("d", function(d) {
    var top = d3.line().x(function(v, i) { return sparkX(i); }).y(function(v) { return sparkY(v); }).curve(smoothCurve)(d);
    return top + "L" + sparkX(d.length - 1) + "," + sparkY(0) + "L" + sparkX(0) + "," + sparkY(0) + "Z";
  });

// clicks spark bars
var clickBandX = d3.scaleBand().domain(d3.range(sparkClicks.length)).range([336, 590]).paddingInner(0.3).paddingOuter(0.15);
var clickBandY = d3.scaleLinear().domain([0, d3.max(sparkClicks)]).range([203, 169.5]);
svg.selectAll(".sparkbar").data(sparkClicks).enter().append("rect").attr("class", "sparkbar")
  .attr("x", function(d, i) { return clickBandX(i); })
  .attr("width", clickBandX.bandwidth())
  .attr("y", function(d) { return clickBandY(d); })
  .attr("height", function(d) { return clickBandY(0) - clickBandY(d); })
  .attr("fill", palette[0]);

// ---- campaigns ----
card(6, 295, 1227, 398);
hline(8, 1233, 340.5, "#ededed");
label(21, 318, "Campaigns", 14.2, titleGrey, "start", 600);
var tabX = [993, 1079, 1126, 1191];
campaignTabs.forEach(function(t, i) {
  label(tabX[i], 323, t, 12.5, i === 0 ? palette[0] : "#595959");
});

var campX = d3.scalePoint().domain(hours).range([70.5, 1209]);
var campY = d3.scaleLinear().domain([0, 15000]).range([643, 373.5]);

svg.append("g").attr("transform", "translate(70.5,0)")
  .call(d3.axisLeft(campY).tickValues(campaignTicks).tickSize(-1138.5).tickPadding(7).tickFormat(fmt))
  .call(function(g) {
    styleAxis(g, axisGrey, 11.3);
    g.selectAll("line").attr("stroke", "#eeeeee").attr("stroke-dasharray", "4 4");
    g.selectAll("text").attr("dy", "0.15em");
  });
hline(70.5, 1209, 643.5, "#e8e8e8");

// last time label runs off the card, clip it where the chart canvas ended
svg.append("clipPath").attr("id", "campClip").append("rect").attr("x", 0).attr("y", -10).attr("width", 1217).attr("height", 40);
svg.append("g").attr("clip-path", "url(#campClip)").attr("transform", "translate(-0.5,643)")
  .call(d3.axisBottom(campX).tickSize(0).tickPadding(7))
  .call(function(g) {
    styleAxis(g, "#777", 11.4);
    g.selectAll("text").attr("dy", "0.71em");
  });

var campaignSeries = [
  [campaignBlueTop, palette[0]], [campaignGreenTop, palette[1]], [campaignTealMid, palette[2]],
  [campaignYellow, palette[3]], [campaignRed, palette[4]], [campaignPurpleLow, palette[5]],
  [campaignBlueLow, palette[0]], [campaignGreenLow, palette[1]], [campaignPurpleTall, palette[5]], [campaignTealTall, palette[2]]
];
var campLine = d3.line().x(function(d, i) { return campX(hours[i]); }).y(function(d) { return campY(d); }).curve(smoothCurve);
campaignSeries.forEach(function(s) {
  var g = svg.append("g");
  g.append("path").datum(s[0]).attr("fill", "none").attr("stroke", s[1]).attr("stroke-width", 2).attr("d", campLine);
  g.selectAll("circle").data(s[0]).enter().append("circle")
    .attr("cx", function(d, i) { return campX(hours[i]); })
    .attr("cy", function(d) { return campY(d); })
    .attr("r", 2.2).attr("fill", "#fff").attr("stroke", s[1]).attr("stroke-width", 1.4);
});

// ---- top media buyers ----
card(6, 713, 602, 398);
hline(8, 608, 758.5, "#ededed");
label(21, 736, "Top -", 14.2, titleGrey, "start", 600);
label(58.5, 737, "Media-Buyers", 10.6, "#c4c4c4");
dots(588, 736);

var pie = d3.pie().sort(null).value(function(d) { return d; });
var roseR = d3.scaleLinear().domain([0, d3.max(buyerValues)]).range([54, 135]);
svg.append("g").attr("transform", "translate(227,934.5)").selectAll("path")
  .data(pie(buyerValues)).enter().append("path")
  .attr("fill", function(d, i) { return [palette[0], palette[1], palette[5]][i]; })
  .attr("d", function(d) { return d3.arc().innerRadius(54).outerRadius(roseR(d.value))(d); });
label(227, 934, buyerNames[0], 11, "#666", "middle");
buyerNames.forEach(function(n, i) {
  var y = 800.5 + i * 21.6;
  svg.append("rect").attr("x", 476).attr("y", y - 6).attr("width", 22).attr("height", 12.5).attr("rx", 3)
    .attr("fill", [palette[0], palette[1], palette[5]][i]);
  label(503, y, n, 11.3, "#666");
});

// ---- impressions & clicks ----
card(630, 713, 602, 398);
hline(632, 1232, 758.5, "#ededed");
label(645, 736, "Impressions & Clicks", 14.2, titleGrey, "start", 600);

svg.append("rect").attr("x", 823).attr("y", 777).attr("width", 22).attr("height", 13).attr("rx", 3).attr("fill", palette[0]);
label(850, 783, "Impression", 11.1, "#666");
svg.append("rect").attr("x", 915.5).attr("y", 777).attr("width", 22).attr("height", 13).attr("rx", 3).attr("fill", palette[1]);
label(943, 783, "Click", 11.1, "#666");
hline(977, 999, 783, palette[5]).attr("stroke-width", 1.7);
svg.append("circle").attr("cx", 988).attr("cy", 783).attr("r", 4.5).attr("fill", "#fff").attr("stroke", palette[5]).attr("stroke-width", 1.8);
label(1003, 783, "CTR(%)", 11.1, "#666");
label(674, 807, "Impression", 11, axisGrey);
label(1206, 807, "CTR", 11, axisGrey, "end");

var comboX = d3.scaleBand().domain(d3.range(impressionValues.length)).range([702, 1196]);
var comboInner = d3.scaleBand().domain(["imp", "click"]).range([0, comboX.bandwidth()]).paddingInner(0.127).paddingOuter(0.352);
var comboY = d3.scaleLinear().domain([0, 80000]).range([1079.3, 827.3]);
var ctrY = d3.scaleLinear().domain([0, 5]).range([1079.3, 827.3]);

svg.append("g").attr("transform", "translate(702,0)")
  .call(d3.axisLeft(comboY).ticks(8).tickSize(-494).tickPadding(6).tickFormat(fmt))
  .call(function(g) {
    styleAxis(g, axisGrey, 11.2);
    g.selectAll("line").attr("stroke", "#e8eaf2");
  });
svg.append("g").attr("transform", "translate(1196,0)")
  .call(d3.axisRight(ctrY).ticks(5).tickSize(-494).tickPadding(7).tickFormat(function(d) { return d + "%"; }))
  .call(function(g) {
    styleAxis(g, axisGrey, 11.2);
    g.selectAll("line").attr("stroke", "#eef0f6");
  });

svg.selectAll(".impbar").data(impressionValues).enter().append("rect").attr("class", "impbar")
  .attr("x", function(d, i) { return comboX(i) + comboInner("imp"); })
  .attr("width", comboInner.bandwidth())
  .attr("y", function(d) { return comboY(d); })
  .attr("height", function(d) { return comboY(0) - comboY(d); })
  .attr("fill", palette[0]);
svg.selectAll(".clickbar").data(clickValues).enter().append("rect").attr("class", "clickbar")
  .attr("x", function(d, i) { return comboX(i) + comboInner("click"); })
  .attr("width", comboInner.bandwidth())
  .attr("y", function(d) { return comboY(d); })
  .attr("height", function(d) { return comboY(0) - comboY(d); })
  .attr("fill", palette[1]);

var ctrX = function(i) { return comboX(i) + comboX.bandwidth() / 2; };
svg.append("path").datum(ctrValues).attr("fill", "none").attr("stroke", palette[5]).attr("stroke-width", 1.8)
  .attr("d", d3.line().x(function(d, i) { return ctrX(i); }).y(function(d) { return ctrY(d); }).curve(smoothCurve));
svg.selectAll(".ctrdot").data(ctrValues).enter().append("circle").attr("class", "ctrdot")
  .attr("cx", function(d, i) { return ctrX(i); })
  .attr("cy", function(d) { return ctrY(d); })
  .attr("r", 2.1).attr("fill", "#fff").attr("stroke", palette[5]).attr("stroke-width", 1.3);

var comboLabels = [0, 3, 6];
comboLabels.forEach(function(i) {
  label(ctrX(i), 1090, hours[i], 11.4, "#777", "middle");
});

// ---- geo map ----
card(6, 1133, 602, 390);
hline(8, 608, 1178.5, "#ededed");
label(21, 1156, "Geo Map by Impressions", 14.2, titleGrey, "start", 600);

var mapX = d3.scaleLinear().domain([-180, 180]).range([76, 538]);
var mapY = d3.scaleLinear().domain([0, 83]).range([1377.5, 1235]);
var geoColor = d3.scaleLinear().domain([0, geoMax / 2, geoMax]).range(["#87cefa", "#ffff00", "#ff4500"]);
var mapLine = d3.line().x(function(d) { return mapX(d[0]); }).y(function(d) { return mapY(d[1]); }).curve(d3.curveLinearClosed);

svg.append("g").selectAll("path").data(worldShapes).enter().append("path")
  .attr("d", function(d) { return mapLine(d[1]); })
  .attr("fill", function(d) {
    var name = d[0];
    if (name in geoValues) { return geoValues[name] === null ? "#eeeeee" : geoColor(geoValues[name]); }
    return geoColor(120);
  })
  .attr("stroke", "#5f6b78").attr("stroke-width", 0.6).attr("stroke-linejoin", "round");

// visual map legend
var gradient = svg.append("defs").append("linearGradient").attr("id", "heat").attr("x1", 0).attr("y1", 0).attr("x2", 0).attr("y2", 1);
[[0, "#ff4500"], [0.5, "#ffff00"], [1, "#87cefa"]].forEach(function(s) {
  gradient.append("stop").attr("offset", s[0]).attr("stop-color", s[1]);
});
svg.append("rect").attr("x", 28).attr("y", 1366).attr("width", 18).attr("height", 124).attr("fill", "url(#heat)");
svg.append("rect").attr("x", 26).attr("y", 1363).attr("width", 21).attr("height", 5).attr("rx", 2.5).attr("fill", "#ff4500");
svg.append("rect").attr("x", 26).attr("y", 1489).attr("width", 21).attr("height", 5).attr("rx", 2.5).attr("fill", "#87cefa");
label(37, 1350, "High", 11.3, "#666", "middle");
label(37, 1505, "Low", 11.3, "#666", "middle");
label(58, 1364, String(geoMax), 11.3, "#666");
label(58, 1490, "0", 11.3, "#666");

// ---- device ----
card(630, 1133, 602, 390);
hline(632, 1232, 1178.5, "#ededed");
label(645, 1156, "Device -", 14.2, titleGrey, "start", 600);
label(703, 1157, "Impression Count", 10.6, "#c4c4c4");
dots(1212, 1156);

var devX = d3.scaleBand().domain(deviceGroups).range([709, 1196]).paddingInner(0.31).paddingOuter(0.155);
var devY = d3.scaleLinear().domain([0, 500000]).range([1433.3, 1205]);
svg.append("g").attr("transform", "translate(709,0)")
  .call(d3.axisLeft(devY).ticks(5).tickSize(-487).tickPadding(7).tickFormat(fmt))
  .call(function(g) {
    styleAxis(g, axisGrey, 11.2);
    g.selectAll("line").attr("stroke", "#eeeeee").attr("stroke-dasharray", "4 4");
  });
hline(709, 1196, 1433.5, "#e6e6e6");
var devTickX = d3.scalePoint().domain(d3.range(4)).range([709, 1196]);
devTickX.domain().forEach(function(i) {
  svg.append("line").attr("x1", devTickX(i)).attr("x2", devTickX(i)).attr("y1", 1433.5).attr("y2", 1438.5).attr("stroke", "#e6e6e6");
});
deviceGroups.forEach(function(g) {
  label(devX(g) + devX.bandwidth() / 2, 1445, g, 11.4, "#666", "middle");
});

var stackRows = deviceGroups.map(function(g, gi) {
  var row = { group: g };
  deviceSeries.forEach(function(s, si) { row[s] = deviceValues[si][gi]; });
  return row;
});
var stacked = d3.stack().keys(deviceSeries)(stackRows);
var seriesColor = function(i) {
  var cycle = [0, 1, 2, 3, 4, 0, 5, 2, 3, 4, 0, 1, 5, 2];
  return palette[cycle[i]];
};
stacked.forEach(function(layer, i) {
  svg.append("g").attr("fill", seriesColor(i)).selectAll("rect").data(layer).enter().append("rect")
    .attr("x", function(d) { return devX(d.data.group); })
    .attr("width", devX.bandwidth())
    .attr("y", function(d) { return devY(d[1]); })
    .attr("height", function(d) { return devY(d[0]) - devY(d[1]); });
});

// legend wraps after XIAOMI like the original
function legendRow(names, startIndex, y) {
  var x = 651.5;
  names.forEach(function(n, i) {
    svg.append("rect").attr("x", x).attr("y", y - 6.5).attr("width", 22).attr("height", 13).attr("rx", 3)
      .attr("fill", seriesColor(startIndex + i));
    var t = label(x + 27.5, y, n, 11.05, "#666");
    x += 27.5 + t.node().getComputedTextLength() + 9.8;
  });
}
legendRow(deviceSeries.slice(0, 7), 0, 1473);
legendRow(deviceSeries.slice(7), 7, 1495);
</script>
</body>
</html>
